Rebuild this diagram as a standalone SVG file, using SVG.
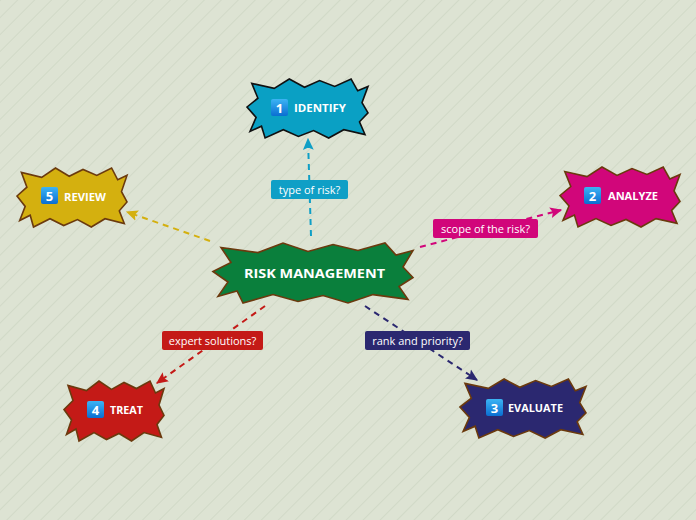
<svg xmlns="http://www.w3.org/2000/svg" width="696" height="520" viewBox="0 0 696 520">
<defs>
<pattern id="bg" width="12" height="12" patternUnits="userSpaceOnUse" patternTransform="rotate(45)">
<rect width="12" height="12" fill="#dde3d3"/>
<line x1="0.5" y1="0" x2="0.5" y2="12" stroke="#d1d9c7" stroke-width="1"/>
</pattern>
<linearGradient id="badge" x1="0" y1="0" x2="0" y2="1">
<stop offset="0" stop-color="#3cb4f4"/>
<stop offset="1" stop-color="#0a6ed2"/>
</linearGradient>
<marker id="aBlue" viewBox="0 0 10 10" refX="9" refY="5" markerWidth="6" markerHeight="6" orient="auto" markerUnits="strokeWidth"><path d="M0,0.5 L10,5 L0,9.5 L2,5 Z" fill="#0f9fc6"/></marker>
<marker id="aPink" viewBox="0 0 10 10" refX="9" refY="5" markerWidth="6" markerHeight="6" orient="auto" markerUnits="strokeWidth"><path d="M0,0.5 L10,5 L0,9.5 L2,5 Z" fill="#d1067a"/></marker>
<marker id="aYellow" viewBox="0 0 10 10" refX="9" refY="5" markerWidth="6" markerHeight="6" orient="auto" markerUnits="strokeWidth"><path d="M0,0.5 L10,5 L0,9.5 L2,5 Z" fill="#d4b00f"/></marker>
<marker id="aRed" viewBox="0 0 10 10" refX="9" refY="5" markerWidth="6" markerHeight="6" orient="auto" markerUnits="strokeWidth"><path d="M0,0.5 L10,5 L0,9.5 L2,5 Z" fill="#c41a17"/></marker>
<marker id="aNavy" viewBox="0 0 10 10" refX="9" refY="5" markerWidth="6" markerHeight="6" orient="auto" markerUnits="strokeWidth"><path d="M0,0.5 L10,5 L0,9.5 L2,5 Z" fill="#2b2870"/></marker>
</defs>
<style>
.shape{stroke:#6b3a0e;stroke-width:1.6;stroke-linejoin:miter}
.conn{fill:none;stroke-width:2;stroke-dasharray:6 5}
.ntext{font-family:"Open Sans","Noto Sans","Liberation Sans",sans-serif;font-weight:bold;fill:#fff;font-size:10px}
.num{font-family:"Open Sans","Noto Sans","Liberation Sans",sans-serif;font-weight:bold;fill:#fff;font-size:13px;text-anchor:middle}
.ltext{font-family:"Open Sans","Noto Sans","Liberation Sans",sans-serif;fill:#fff;font-size:11px;text-anchor:middle}
</style>
<rect width="696" height="520" fill="url(#bg)"/>

<g id="connectors">
<line class="conn" x1="311" y1="236" x2="308" y2="139" stroke="#0f9fc6" marker-end="url(#aBlue)"/>
<line class="conn" x1="420" y1="247" x2="561" y2="210" stroke="#d1067a" marker-end="url(#aPink)"/>
<line class="conn" x1="210" y1="241" x2="127" y2="212" stroke="#d4b00f" marker-end="url(#aYellow)"/>
<line class="conn" x1="265" y1="306" x2="157" y2="383" stroke="#c41a17" marker-end="url(#aRed)"/>
<line class="conn" x1="365" y1="306" x2="477" y2="380" stroke="#2b2870" marker-end="url(#aNavy)"/>
</g>

<g id="label-identify">
<rect x="271" y="180" width="77" height="19" rx="2" fill="#0f9fc6"/>
<text class="ltext" x="309.5" y="193.5">type of risk?</text>
</g>
<g id="label-analyze">
<rect x="433" y="219" width="105" height="19" rx="2" fill="#d1067a"/>
<text class="ltext" x="485.5" y="232.5">scope of the risk?</text>
</g>
<g id="label-treat">
<rect x="162" y="331" width="101" height="19" rx="2" fill="#c41a17"/>
<text class="ltext" x="212.5" y="344.5">expert solutions?</text>
</g>
<g id="label-evaluate">
<rect x="365" y="331" width="105" height="19" rx="2" fill="#2b2870"/>
<text class="ltext" x="417.5" y="344.5">rank and priority?</text>
</g>

<g id="node-center">
<polygon class="shape" fill="#0a7f3c" points="213,271.5 231,262.5 221,247.5 258,252.6 283,243 308,251.4 333,244.5 358,250.5 385,243 396,255 413,250.5 403,267 413,277.5 399,286.5 408,299.4 373,294.6 348,303 323,295.5 298,301.5 273,294.6 243,303 237,291 218,296.4 228,282"/>
<text x="314.5" y="277.5" font-family="'Open Sans','Noto Sans','Liberation Sans',sans-serif" font-weight="bold" font-size="13" fill="#fff" text-anchor="middle" textLength="141" lengthAdjust="spacingAndGlyphs">RISK MANAGEMENT</text>
</g>

<g id="node-identify">
<polygon class="shape" style="stroke:#111" fill="#0aa0c4" points="247,107 257.9,98.2 251.8,83.4 274.2,88.4 289.3,79 304.5,87.3 319.6,80.5 334.7,86.4 351.1,79 357.7,90.8 368,86.4 362,102.6 368,112.9 359.5,121.8 365,134.5 343.8,129.7 328.7,138 313.6,130.6 298.4,136.5 283.3,129.7 265.1,138 261.5,126.2 250,131.5 256.1,117.4"/>
<rect x="271" y="99" width="17" height="17" rx="2" fill="url(#badge)"/>
<text class="num" x="279.5" y="112.5">1</text>
<text class="ntext" x="294" y="112" textLength="52" lengthAdjust="spacingAndGlyphs">IDENTIFY</text>
</g>

<g id="node-analyze">
<polygon class="shape" fill="#d1067a" points="560,195.5 570.8,186.5 564.8,171.5 587,176.6 602,167 617,175.4 632,168.5 647,174.5 663.2,167 669.8,179 680,174.5 674,191 680,201.5 671.6,210.5 677,223.4 656,218.6 641,227 626,219.5 611,225.5 596,218.6 578,227 574.4,215 563,220.4 569,206"/>
<rect x="584" y="187" width="17" height="17" rx="2" fill="url(#badge)"/>
<text class="num" x="592.5" y="200.5">2</text>
<text class="ntext" x="608" y="200" textLength="50" lengthAdjust="spacingAndGlyphs">ANALYZE</text>
</g>

<g id="node-evaluate">
<polygon class="shape" fill="#2b2870" points="460,407 471.3,398.2 465,383.4 488.3,388.4 504.1,379 519.8,387.3 535.6,380.5 551.4,386.4 568.4,379 575.3,390.8 586,386.4 579.7,402.6 586,412.9 577.2,421.8 582.9,434.5 560.8,429.7 545.1,438 529.3,430.6 513.5,436.5 497.8,429.7 478.9,438 475.1,426.2 463.1,431.5 469.4,417.4"/>
<rect x="486" y="399" width="17" height="17" rx="2" fill="url(#badge)"/>
<text class="num" x="494.5" y="412.5">3</text>
<text class="ntext" x="508" y="412" textLength="55" lengthAdjust="spacingAndGlyphs">EVALUATE</text>
</g>

<g id="node-treat">
<polygon class="shape" fill="#c41a17" points="64,409.5 73,400.5 68,385.5 86.5,390.6 99,381 111.5,389.4 124,382.5 136.5,388.5 150,381 155.5,393 164,388.5 159,405 164,415.5 157,424.5 161.5,437.4 144,432.6 131.5,441 119,433.5 106.5,439.5 94,432.6 79,441 76,429 66.5,434.4 71.5,420"/>
<rect x="87" y="401" width="17" height="17" rx="2" fill="url(#badge)"/>
<text class="num" x="95.5" y="414.5">4</text>
<text class="ntext" x="110" y="414" textLength="33" lengthAdjust="spacingAndGlyphs">TREAT</text>
</g>

<g id="node-review">
<polygon class="shape" fill="#d4b00f" points="17,196 26.9,187.2 21.4,172.4 41.7,177.4 55.5,168 69.2,176.3 83,169.5 96.8,175.4 111.6,168 117.7,179.8 127,175.4 121.5,191.6 127,201.9 119.3,210.8 124.3,223.5 105,218.7 91.3,227 77.5,219.6 63.7,225.5 50,218.7 33.5,227 30.2,215.2 19.7,220.5 25.2,206.4"/>
<rect x="41" y="187" width="17" height="17" rx="2" fill="url(#badge)"/>
<text class="num" x="49.5" y="200.5">5</text>
<text class="ntext" x="64" y="201" textLength="42" lengthAdjust="spacingAndGlyphs">REVIEW</text>
</g>
</svg>
